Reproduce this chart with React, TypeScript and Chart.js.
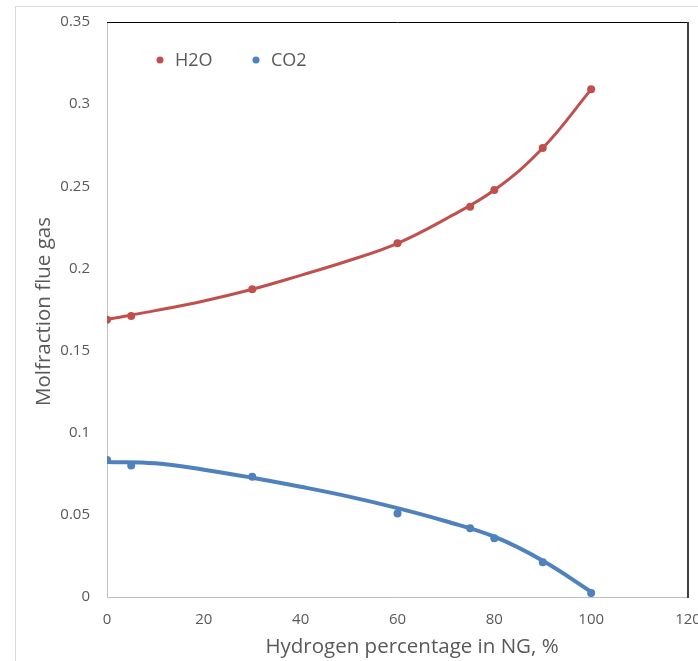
import React, { useEffect, useRef } from "react";
import { Chart, registerables } from "chart.js";

Chart.register(...registerables);

// measured points
const hydrogenPct = [0, 5, 30, 60, 75, 80, 90, 100];
const h2oValues = [0.1688, 0.171, 0.1873, 0.2153, 0.2376, 0.2477, 0.2733, 0.309];
const co2Values = [0.0834, 0.0801, 0.0732, 0.0509, 0.0418, 0.0357, 0.0211, 0.0024];
// trendline
const trendX = [0, 10, 20, 30, 40, 50, 60, 70, 80, 90, 100];
const h2oTrend = [0.169, 0.1743, 0.1802, 0.1873, 0.1958, 0.2048, 0.2153, 0.2302, 0.2477, 0.2733, 0.309];
const co2Trend = [0.0822, 0.0814, 0.0775, 0.0726, 0.0671, 0.0611, 0.0541, 0.0461, 0.0367, 0.0221, 0.0032];
const seriesLabels = ["H2O", "CO2"];
const seriesColors = ["#C0504D", "#4F81BD"];
const xTitle = "Hydrogen percentage in NG, %";
const yTitle = "Molfraction flue gas";

const FONT = "'Open Sans', 'DejaVu Sans', sans-serif";
const TEXT = "#595959";

const framePlugin = {
  id: "frame",
  beforeDraw(chart: any) {
    const ctx = chart.ctx;
    ctx.save();
    ctx.fillStyle = "#ffffff";
    ctx.fillRect(0, 0, chart.width, chart.height);
    ctx.strokeStyle = "#D9D9D9";
    ctx.lineWidth = 1;
    ctx.strokeRect(15.5, 6.5, chart.width + 20, chart.height + 20);
    ctx.restore();
  },
  beforeDatasetsDraw(chart: any) {
    const { ctx, chartArea } = chart;
    const { left, right, top, bottom } = chartArea;
    ctx.save();
    ctx.lineWidth = 1;
    ctx.strokeStyle = "#BFBFBF";
    ctx.beginPath();
    ctx.moveTo(left + 0.5, top);
    ctx.lineTo(left + 0.5, bottom + 0.5);
    ctx.lineTo(right, bottom + 0.5);
    ctx.stroke();
    ctx.strokeStyle = "#000000";
    ctx.beginPath();
    ctx.moveTo(left, top + 0.5);
    ctx.lineTo(right, top + 0.5);
    ctx.stroke();
    ctx.strokeStyle = "#404040";
    ctx.lineWidth = 2;
    ctx.beginPath();
    ctx.moveTo(right, top);
    ctx.lineTo(right, bottom + 1);
    ctx.stroke();
    ctx.restore();
  },
  afterDraw(chart: any) {
    const { ctx, chartArea } = chart;
    ctx.save();
    ctx.fillStyle = TEXT;
    ctx.font = `20.5px ${FONT}`;
    ctx.textAlign = "center";
    ctx.textBaseline = "middle";
    ctx.fillText(xTitle, 412, 647);
    ctx.translate(44, (chartArea.top + chartArea.bottom) / 2 + 2);
    ctx.rotate(-Math.PI / 2);
    ctx.fillText(yTitle, 0, 0);
    ctx.restore();

    // legend inside plot area
    ctx.save();
    ctx.font = `18px ${FONT}`;
    ctx.textBaseline = "middle";
    ctx.textAlign = "left";
    const legendX = [160, 256];
    seriesLabels.forEach((label, i) => {
      ctx.fillStyle = seriesColors[i];
      ctx.beginPath();
      ctx.arc(legendX[i], 60, 3.5, 0, Math.PI * 2);
      ctx.fill();
      ctx.fillStyle = TEXT;
      ctx.fillText(label, legendX[i] + 15, 61);
    });
    ctx.restore();
  },
};

export default function App() {
  const canvasRef = useRef<HTMLCanvasElement | null>(null);

  useEffect(() => {
    if (!canvasRef.current) return;
    const pts = (xs: number[], vals: number[]) => xs.map((x, i) => ({ x, y: vals[i] }));
    const chart = new Chart(canvasRef.current, {
      type: "scatter",
      data: {
        datasets: [
          {
            label: seriesLabels[0] + " trend",
            data: pts(trendX, h2oTrend),
            borderColor: seriesColors[0],
            backgroundColor: seriesColors[0],
            showLine: true,
            borderWidth: 3,
            pointRadius: 0,
            tension: 0.4,
          },
          {
            label: seriesLabels[1] + " trend",
            data: pts(trendX, co2Trend),
            borderColor: seriesColors[1],
            backgroundColor: seriesColors[1],
            showLine: true,
            borderWidth: 4,
            pointRadius: 0,
            tension: 0.4,
          },
          {
            label: seriesLabels[0],
            data: pts(hydrogenPct, h2oValues),
            borderColor: seriesColors[0],
            backgroundColor: seriesColors[0],
            showLine: false,
            pointRadius: 4,
            pointBorderWidth: 0,
          },
          {
            label: seriesLabels[1],
            data: pts(hydrogenPct, co2Values),
            borderColor: seriesColors[1],
            backgroundColor: seriesColors[1],
            showLine: false,
            pointRadius: 4,
            pointBorderWidth: 0,
          },
        ],
      },
      options: {
        animation: false,
        responsive: false,
        maintainAspectRatio: false,
        events: [],
        layout: { padding: { left: 0, top: 22, right: 10, bottom: 0 } },
        plugins: {
          legend: { display: false },
          tooltip: { enabled: false },
        },
        scales: {
          x: {
            type: "linear",
            min: 0,
            max: 120,
            ticks: {
              stepSize: 20,
              color: TEXT,
              font: { family: FONT, size: 15 },
              padding: 14,
              maxRotation: 0,
            },
            grid: { display: false, drawTicks: false },
            border: { display: false },
            afterFit: (s: any) => {
              s.height = 64;
              s.paddingLeft = 0;
              s.paddingRight = 0;
            },
          },
          y: {
            type: "linear",
            min: 0,
            max: 0.35,
            ticks: {
              stepSize: 0.05,
              color: TEXT,
              font: { family: FONT, size: 15 },
              padding: 17,
              callback: (v: any) => String(Math.round(Number(v) * 100) / 100),
            },
            grid: { display: false, drawTicks: false },
            border: { display: false },
            afterFit: (s: any) => {
              s.width = 107;
              s.paddingTop = 0;
              s.paddingBottom = 0;
            },
          },
        },
      },
      plugins: [framePlugin],
    });
    return () => chart.destroy();
  }, []);

  return (
    <div style={{ position: "fixed", left: 0, top: 0, width: 698, height: 661, overflow: "hidden" }}>
      <canvas ref={canvasRef} width={698} height={661} style={{ width: 698, height: 661, display: "block" }} />
    </div>
  );
}
